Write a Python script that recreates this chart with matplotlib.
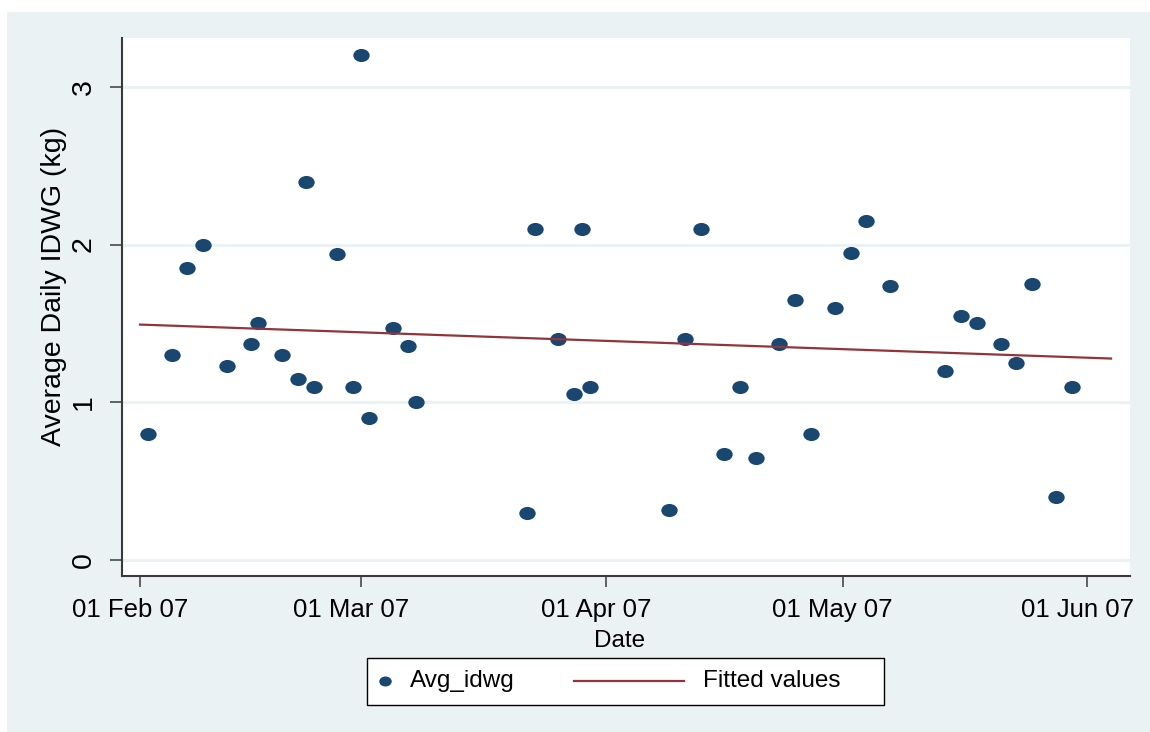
import matplotlib
matplotlib.use("Agg")
import matplotlib.pyplot as plt
import matplotlib.dates as mdates
from matplotlib.path import Path
from matplotlib.transforms import Affine2D, ScaledTranslation
from matplotlib.patches import Rectangle
from matplotlib.lines import Line2D
import numpy as np
import pandas as pd

dates = [
    "2007-02-02", "2007-02-05", "2007-02-07", "2007-02-09", "2007-02-12", "2007-02-15",
    "2007-02-16", "2007-02-19", "2007-02-21", "2007-02-22", "2007-02-23", "2007-02-26",
    "2007-02-28",
    "2007-03-01", "2007-03-02", "2007-03-05", "2007-03-07", "2007-03-08", "2007-03-22",
    "2007-03-23", "2007-03-26", "2007-03-28", "2007-03-29", "2007-03-30",
    "2007-04-09", "2007-04-11", "2007-04-13", "2007-04-16", "2007-04-18", "2007-04-20",
    "2007-04-23", "2007-04-25", "2007-04-27", "2007-04-30",
    "2007-05-02", "2007-05-04", "2007-05-07", "2007-05-14", "2007-05-16", "2007-05-18",
    "2007-05-21", "2007-05-23", "2007-05-25", "2007-05-28", "2007-05-30",
]
avg_idwg = [
    0.80, 1.30, 1.85, 2.00, 1.23, 1.37, 1.50, 1.30, 1.15, 2.40, 1.10, 1.94, 1.10,
    3.20, 0.90, 1.47, 1.36, 1.00, 0.30, 2.10, 1.40, 1.05, 2.10, 1.10,
    0.32, 1.40, 2.10, 0.67, 1.10, 0.65, 1.37, 1.65, 0.80, 1.60,
    1.95, 2.15, 1.74, 1.20, 1.55, 1.50, 1.37, 1.25, 1.75, 0.40, 1.10,
]
fit_range = ["2007-02-01", "2007-06-04"]
x_ticks = ["2007-02-01", "2007-03-01", "2007-04-01", "2007-05-01", "2007-06-01"]
y_ticks = [0, 1, 2, 3]

BG = "#EAF2F3"
NAVY = "#1A476F"
MAROON = "#90353B"
AXIS = "#3A3A3A"
FS = 17.5
FS_Y = 20.5
FS_X = 18.5
W, H = 1150, 732

plt.rcParams["font.family"] = ["Liberation Sans", "DejaVu Sans"]

fig = plt.figure(figsize=(W / 100, H / 100), dpi=100, facecolor="white")
fig.patches.append(Rectangle((7 / W, 0), 1, 1 - 12 / H, transform=fig.transFigure,
                             facecolor=BG, edgecolor="none", zorder=-10))

ax = fig.add_axes([122 / W, 1 - 576 / H, (1130 - 122) / W, (576 - 38) / H])
ax.set_facecolor("white")

ellipse = Path.unit_circle().transformed(Affine2D().scale(1, 0.8))

x = pd.to_datetime(dates)
ax.plot(x, avg_idwg, linestyle="none", marker=ellipse, ms=11.8, mew=0, color=NAVY, zorder=3)

# linear fit
xn = mdates.date2num(x)
coef = np.polyfit(xn, avg_idwg, 1)
fx = pd.to_datetime(fit_range)
ax.plot(fx, np.polyval(coef, mdates.date2num(fx)), color=MAROON, lw=1.6, zorder=4)

x0 = mdates.date2num(pd.Timestamp("2007-02-01"))
ax.set_xlim(x0 - 2.28, x0 + 125.4)
ax.set_ylim(-0.101, 3.31)

ax.set_xticks(pd.to_datetime(x_ticks))
ax.xaxis.set_major_formatter(mdates.DateFormatter("%d %b %y"))
ax.set_yticks(y_ticks)

ax.yaxis.grid(True, color=BG, lw=2.2)
ax.set_axisbelow(True)

for s in ["top", "right"]:
    ax.spines[s].set_visible(False)
for s in ["left", "bottom"]:
    ax.spines[s].set_color(AXIS)
    ax.spines[s].set_linewidth(1.5)

ax.tick_params(axis="y", length=9, width=1.1, color=AXIS, pad=9, labelsize=FS_Y)
ax.tick_params(axis="x", length=8, width=1.1, color=AXIS, pad=8, labelsize=FS_X)
plt.setp(ax.get_yticklabels(), rotation=90, va="center")

# the date labels sit a little left of their ticks
shift = ScaledTranslation(-10 / 100, 0, fig.dpi_scale_trans)
for lab in ax.get_xticklabels():
    lab.set_transform(lab.get_transform() + shift)

ax.set_ylabel("Average Daily IDWG (kg)", fontsize=FS_Y)
ax.yaxis.set_label_coords(-0.0546, 0.539)
ax.set_xlabel("Date", fontsize=FS)
ax.xaxis.set_label_coords(0.494, -0.1)

# legend box
ly = 1 - 681 / H
fig.patches.append(Rectangle((367 / W, 1 - 705 / H), 517 / W, 47 / H, transform=fig.transFigure,
                             facecolor="white", edgecolor="black", lw=1.0))
fig.add_artist(Line2D([385 / W], [ly], transform=fig.transFigure, linestyle="none",
                      marker=ellipse, ms=9, mew=0, color=NAVY))
fig.text(410 / W, ly, "Avg_idwg", fontsize=FS, va="center", ha="left")
fig.add_artist(Line2D([574 / W, 684 / W], [ly, ly], transform=fig.transFigure,
                      color=MAROON, lw=1.6))
fig.text(703 / W, ly, "Fitted values", fontsize=FS, va="center", ha="left")

fig.savefig("out.png", dpi=100)
